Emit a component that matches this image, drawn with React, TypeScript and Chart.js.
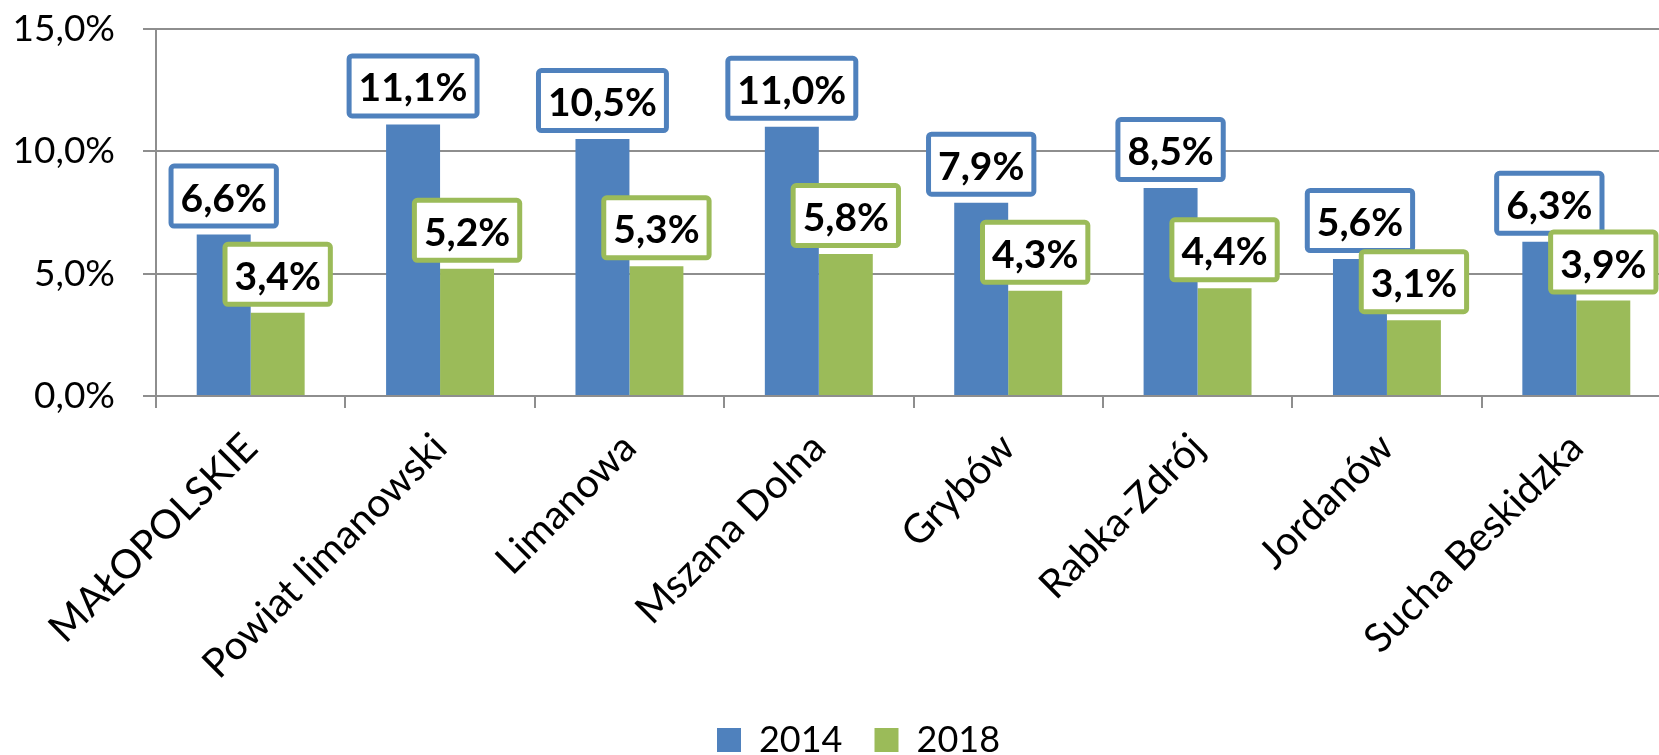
import React, { useEffect, useRef } from "react";
import { Chart, registerables } from "chart.js";

Chart.register(...registerables);

const categories = [
  "MAŁOPOLSKIE",
  "Powiat limanowski",
  "Limanowa",
  "Mszana Dolna",
  "Grybów",
  "Rabka-Zdrój",
  "Jordanów",
  "Sucha Beskidzka",
];
const seriesNames = ["2014", "2018"];
const values2014 = [6.6, 11.1, 10.5, 11.0, 7.9, 8.5, 5.6, 6.3];
const values2018 = [3.4, 5.2, 5.3, 5.8, 4.3, 4.4, 3.1, 3.9];
const yMin = 0;
const yMax = 15;
const yStep = 5;

const BLUE = "#4F81BD";
const GREEN = "#9BBB59";
const GRID = "#8E8E8E";
const FONT = "Lato";

const fmt = (v: number) => v.toFixed(1).replace(".", ",") + "%";

const boxLabels = {
  id: "boxLabels",
  afterDatasetsDraw(chart: any) {
    const ctx = chart.ctx;
    ctx.save();
    ctx.font = `bold 39px ${FONT}`;
    chart.data.datasets.forEach((ds: any, di: number) => {
      const meta = chart.getDatasetMeta(di);
      meta.data.forEach((bar: any, i: number) => {
        const text = fmt(ds.data[i]);
        const tw = ctx.measureText(text).width;
        const w = tw + 24;
        const h = 65;
        const cx = bar.x;
        const y0 = bar.y - 6 - h;
        const x0 = cx - w / 2;
        ctx.beginPath();
        ctx.roundRect(x0 + 2.5, y0 + 2.5, w - 5, h - 5, 3);
        ctx.fillStyle = "#fff";
        ctx.fill();
        ctx.lineWidth = 5;
        ctx.strokeStyle = ds.backgroundColor;
        ctx.stroke();
        ctx.fillStyle = "#000";
        ctx.textAlign = "center";
        ctx.textBaseline = "alphabetic";
        ctx.fillText(text, cx, y0 + 48);
      });
    });
    ctx.restore();
  },
};

const shiftLegend = {
  id: "shiftLegend",
  afterLayout(chart: any) {
    const l = chart.legend;
    if (l) {
      l.left += 23;
      l.right += 23;
    }
  },
};

export default function App() {
  const ref = useRef<HTMLCanvasElement | null>(null);
  useEffect(() => {
    let chart: Chart | null = null;
    let cancelled = false;
    const make = () => {
      if (cancelled || !ref.current) return;
      const font = { family: FONT, size: 36 };
      const xFont = { family: FONT, size: 40 };
      chart = new Chart(ref.current, {
        type: "bar",
        data: {
          labels: categories,
          datasets: [
            { label: seriesNames[0], data: values2014, backgroundColor: BLUE, borderWidth: 0, categoryPercentage: 0.57, barPercentage: 1 },
            { label: seriesNames[1], data: values2018, backgroundColor: GREEN, borderWidth: 0, categoryPercentage: 0.57, barPercentage: 1 },
          ],
        },
        options: {
          responsive: false,
          animation: false,
          layout: { padding: { left: 0, right: 19, top: 29, bottom: 0 } },
          plugins: {
            legend: {
              position: "bottom",
              labels: { font, color: "#000", boxWidth: 24, boxHeight: 24, padding: 32 },
            },
            tooltip: { enabled: false },
          },
          scales: {
            x: {
              grid: { offset: true, drawOnChartArea: false, drawTicks: true, tickLength: 12, color: GRID, lineWidth: 2 },
              border: { display: true, color: GRID, width: 2 },
              ticks: { font: xFont, color: "#000", minRotation: 45, maxRotation: 45, autoSkip: false, padding: 16 },
              afterFit: (s: any) => {
                s.height = 294;
              },
            },
            y: {
              min: yMin,
              max: yMax,
              ticks: { stepSize: yStep, font: { family: FONT, size: 37 }, color: "#000", padding: 28, callback: (v: any) => fmt(Number(v)) },
              grid: { color: GRID, lineWidth: 2, tickLength: 13 },
              border: { display: true, color: GRID, width: 2 },
              afterFit: (s: any) => {
                s.width = 156;
                s.paddingTop = 0;
                s.paddingBottom = 0;
              },
            },
          },
        },
        plugins: [boxLabels, shiftLegend],
      });
    };
    if ((document as any).fonts && (document as any).fonts.load) {
      Promise.all([
        (document as any).fonts.load(`36px ${FONT}`),
        (document as any).fonts.load(`bold 36px ${FONT}`),
      ]).then(make, make);
    } else make();
    return () => {
      cancelled = true;
      if (chart) chart.destroy();
    };
  }, []);
  return (
    <div style={{ position: "fixed", left: 0, top: 0, width: 1659, height: 755, overflow: "hidden", background: "#fff" }}>
      <canvas ref={ref} width={1690} height={768} style={{ width: 1690, height: 768, display: "block" }} />
    </div>
  );
}
